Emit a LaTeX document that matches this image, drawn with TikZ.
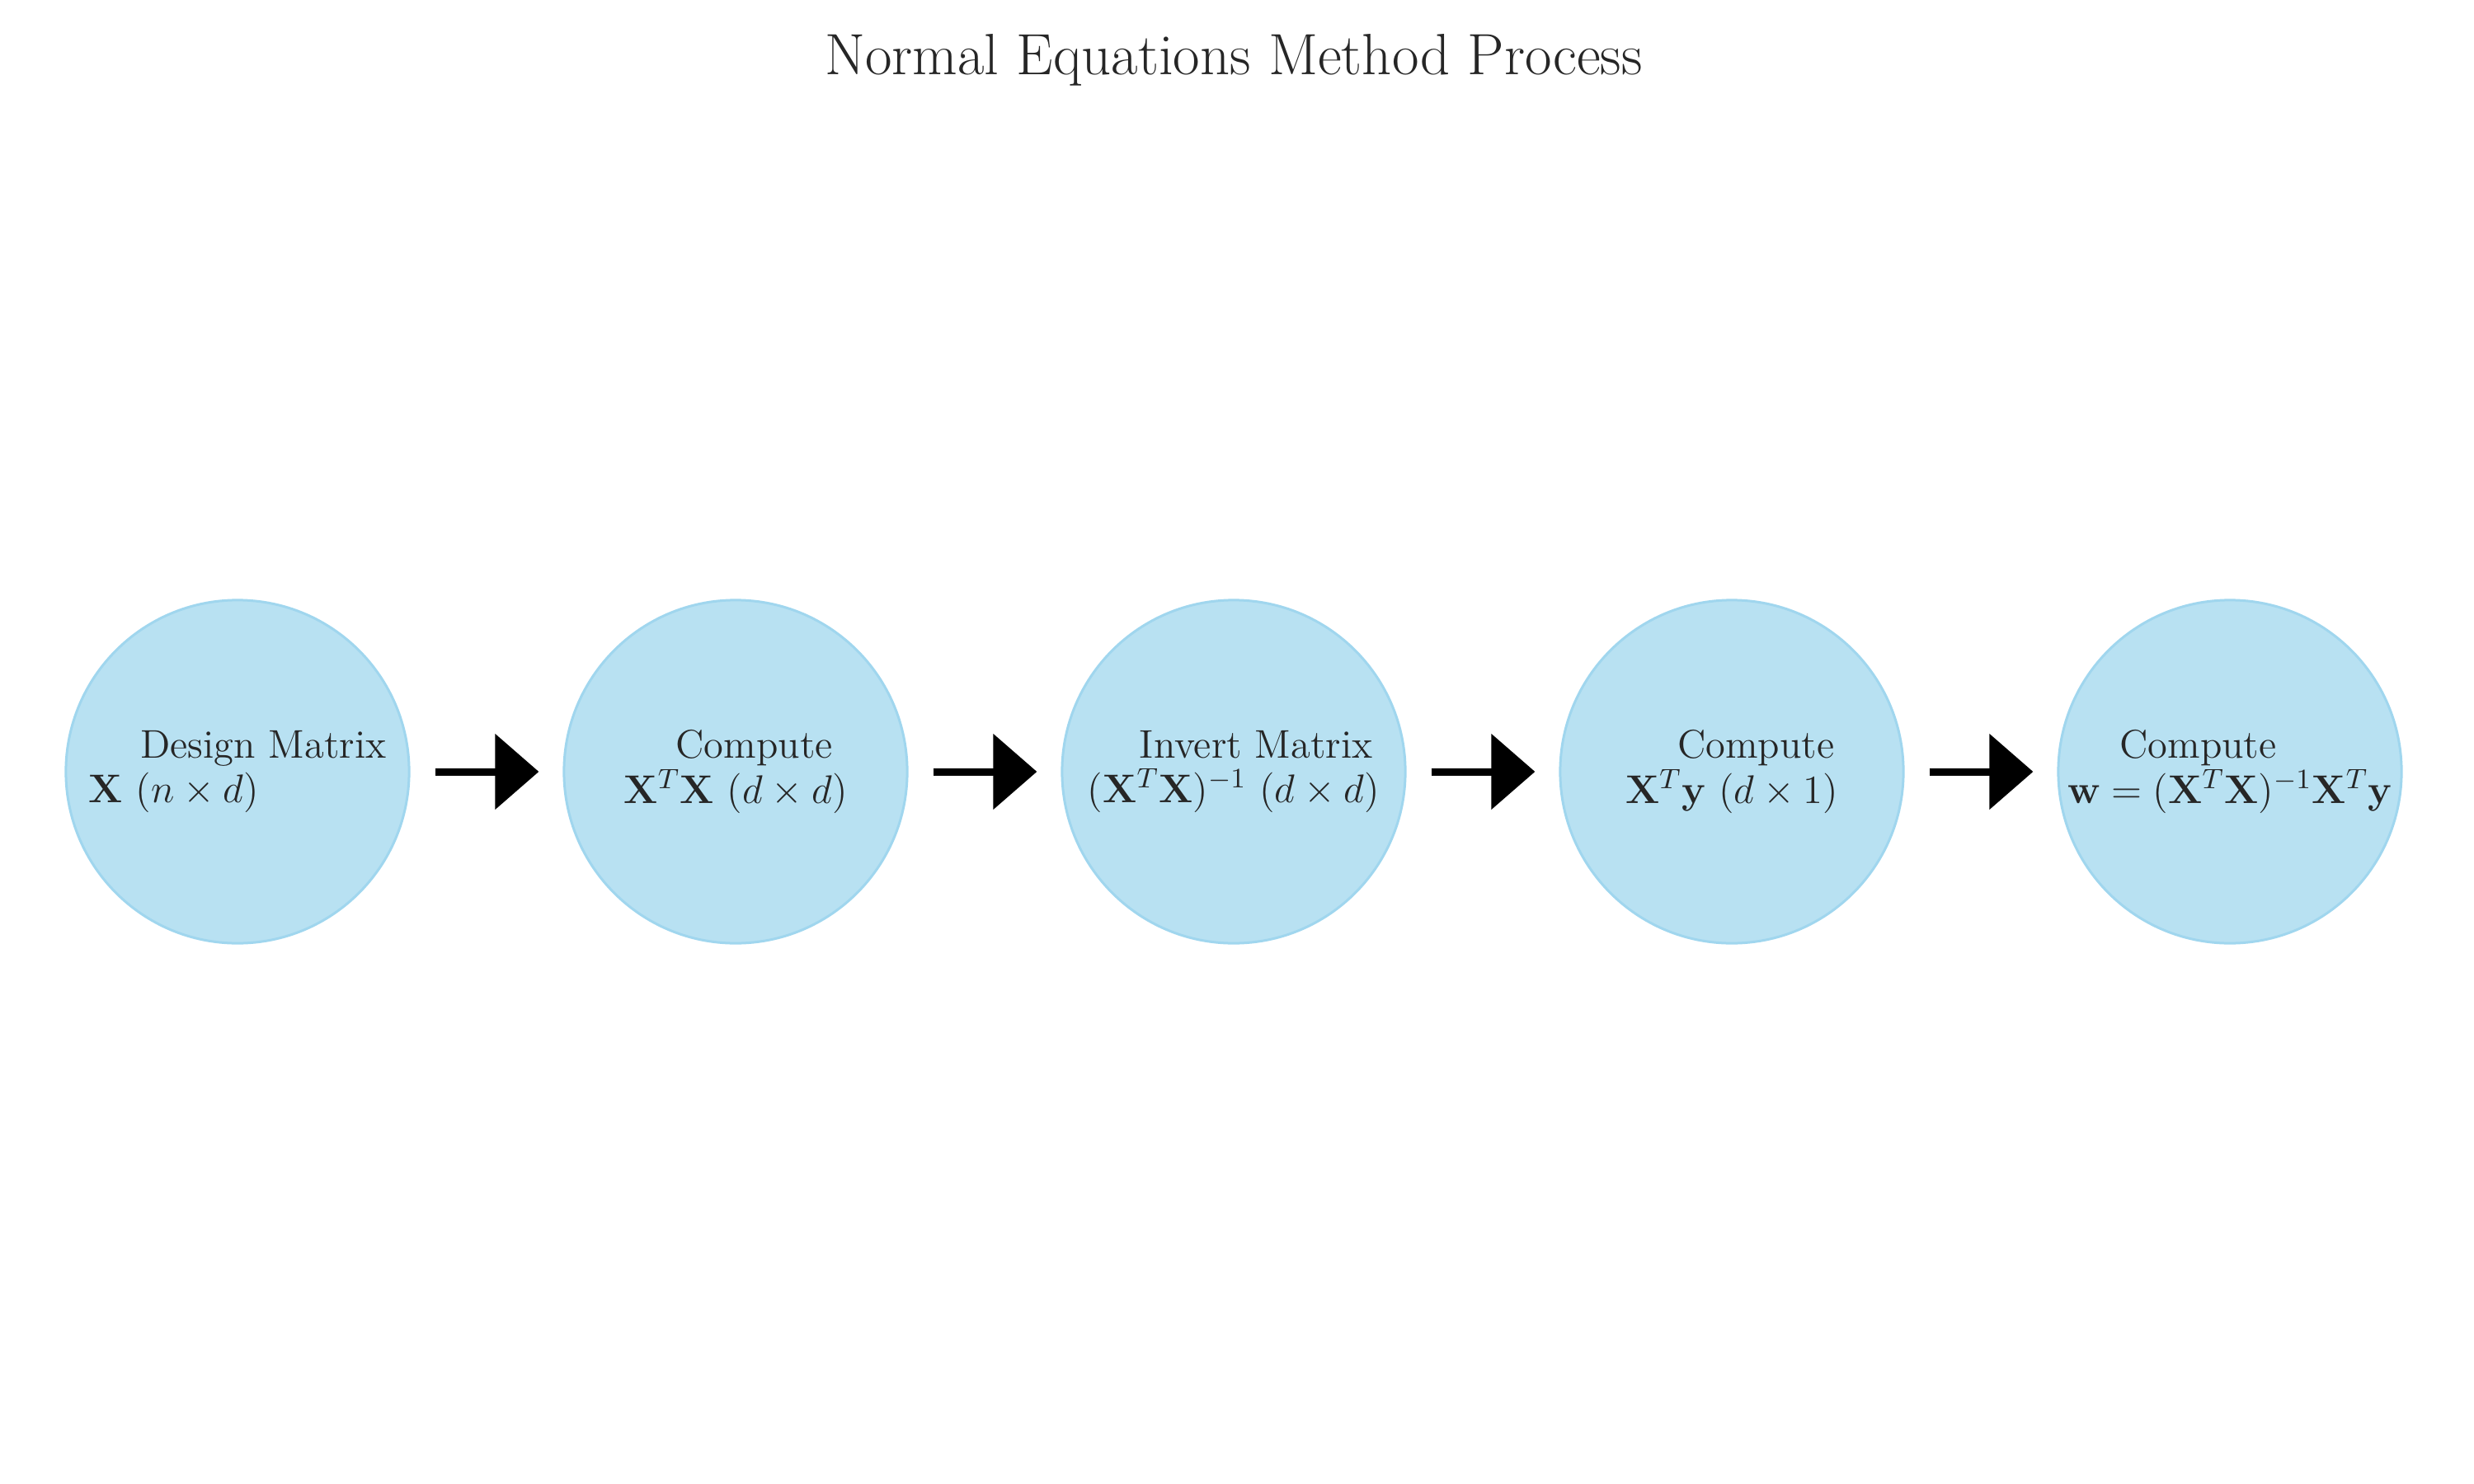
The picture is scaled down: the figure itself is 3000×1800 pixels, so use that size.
\RequirePackage{fix-cm}
\documentclass[tikz,border=0pt]{standalone}
\usepackage{fontspec}
\setmainfont{Latin Modern Roman}
\usetikzlibrary{arrows.meta}
\definecolor{txtgray}{RGB}{38,38,38}
\definecolor{circfill}{RGB}{184,225,242}
\definecolor{circedge}{RGB}{160,214,238}
\tikzset{
  stepcircle/.style={circle, minimum size=4.16cm, inner sep=0pt, fill=circfill, draw=circedge,
    line width=0.03cm, align=left, text=txtgray, font=\fontsize{13.8}{15.4}\selectfont},
  flowarrow/.style={draw=black, line width=0.09cm, -{Triangle[length=0.53cm, width=0.9cm]}},
  titletext/.style={text=txtgray, font=\fontsize{20.1}{24}\selectfont, inner sep=0pt}
}
\newcommand{\firstind}{\hspace*{0.63cm}}
\begin{document}
\begin{tikzpicture}[x=0.01cm, y=-0.01cm]
\useasboundingbox (0,0) rectangle (3000,1800);
\node[titletext, anchor=base] (title) at (1496,91) {Normal Equations Method Process};
\node[stepcircle] (c1) at (288,936) {\firstind Design Matrix\\$\mathbf{X}$ ($n \times d$)};
\node[stepcircle] (c2) at (892,936) {\firstind Compute\\$\mathbf{X}^T\mathbf{X}$ ($d \times d$)};
\node[stepcircle] (c3) at (1496,936) {\firstind Invert Matrix\\$(\mathbf{X}^T\mathbf{X})^{-1}$ ($d \times d$)};
\node[stepcircle] (c4) at (2100,936) {\firstind Compute\\$\mathbf{X}^T\mathbf{y}$ ($d \times 1$)};
\node[stepcircle] (c5) at (2704,936) {\firstind Compute\\$\mathbf{w} = (\mathbf{X}^T\mathbf{X})^{-1}\mathbf{X}^T\mathbf{y}$};
\draw[flowarrow] ([xshift=0.3cm]c1.east) -- ([xshift=-0.29cm]c2.west);
\draw[flowarrow] ([xshift=0.3cm]c2.east) -- ([xshift=-0.29cm]c3.west);
\draw[flowarrow] ([xshift=0.3cm]c3.east) -- ([xshift=-0.29cm]c4.west);
\draw[flowarrow] ([xshift=0.3cm]c4.east) -- ([xshift=-0.29cm]c5.west);
\end{tikzpicture}
\end{document}
